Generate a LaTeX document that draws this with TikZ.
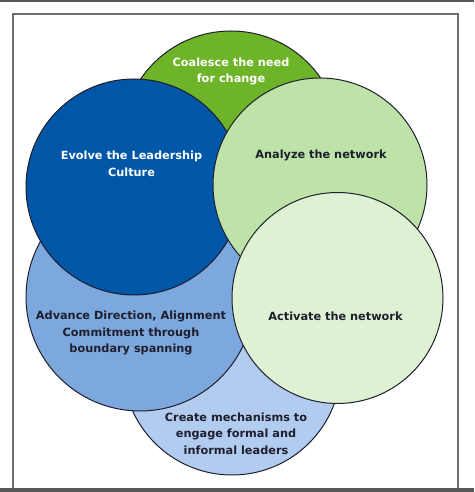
\documentclass[tikz,border=0pt]{standalone}
\usepackage{fontspec}
\setmainfont{DejaVu Sans}
\definecolor{green1}{RGB}{110, 180, 40}
\definecolor{green2}{RGB}{190, 227, 168}
\definecolor{green3}{RGB}{222, 242, 211}
\definecolor{blue1}{RGB}{0, 87, 168}
\definecolor{blue2}{RGB}{125, 168, 221}
\definecolor{blue3}{RGB}{178, 204, 240}
\definecolor{ink1}{RGB}{30, 30, 45}
\definecolor{frame1}{RGB}{110, 110, 110}
\usepackage{tikz}
\usetikzlibrary{positioning}

\begin{document}
\begin{tikzpicture}[x=1pt, y=1pt,
  stage/.style={circle, draw=ink1, line width=1pt, inner sep=0pt, outer sep=0pt},
  stagetext/.style={align=center, font=\fontsize{11.3}{16.7}\selectfont\bfseries, text=ink1, inner sep=0pt}]
  \useasboundingbox (0, 0) rectangle (474, 492);
  % frame and bars
  \fill[frame1!80!black] (0, 490) rectangle (474, 492);
  \fill[frame1!80!black] (0, 0) rectangle (474, 4);
  \draw[frame1, line width=1.2pt] (13, 4) -- (13, 478) -- (458, 478) -- (458, 4);

  % circles, back to front
  \node[stage, fill=green1, minimum size=218] (coalesce) at (231, 352) {};
  \node[stage, fill=blue3, minimum size=218] (create) at (232, 126) {};
  \node[stage, fill=blue2, minimum size=228] (advance) at (140, 195) {};
  \node[stage, fill=blue1, minimum size=216] (evolve) at (134, 305) {};
  \node[stage, fill=green2, minimum size=214] (analyze) at (320, 307) {};
  \node[stage, fill=green3, minimum size=211] (activate) at (337.5, 194) {};

  % labels
  \node[stagetext, text=white] (coalescetext) at (231, 420.5) {Coalesce the need\\for change};
  \node[stagetext, text=white] (evolvetext) at (131.5, 328.5) {Evolve the Leadership\\Culture};
  \node[stagetext] (analyzetext) at (321, 337) {Analyze the network};
  \node[stagetext] (activatetext) at (335.5, 176) {Activate the network};
  \node[stagetext] (advancetext) at (131, 159) {Advance Direction, Alignment\\Commitment through\\boundary spanning};
  \node[stagetext] (createtext) at (236, 58.5) {Create mechanisms to\\engage formal and\\informal leaders};
\end{tikzpicture}
\end{document}
